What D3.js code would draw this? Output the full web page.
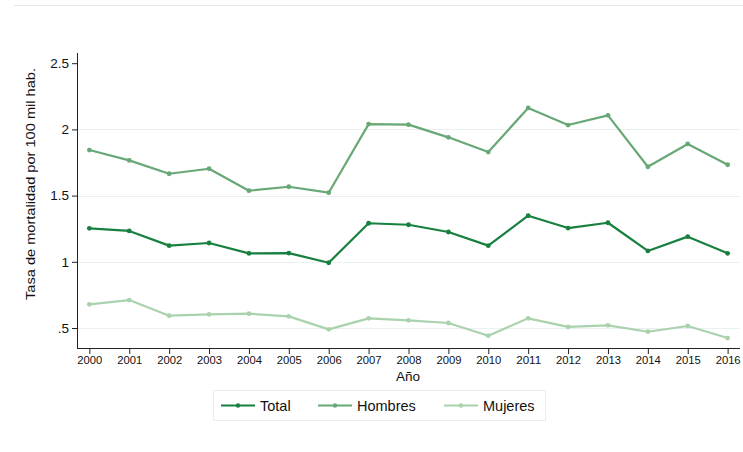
<!DOCTYPE html>
<html><head><meta charset="utf-8">
<script src="https://cdn.jsdelivr.net/npm/d3@7"></script>
<style>body{margin:0;background:#fff}svg{display:block;font-family:"Liberation Sans",Arial,sans-serif}</style>
</head><body><svg id="c" width="743" height="452"></svg>
<script>
const years = [2000,2001,2002,2003,2004,2005,2006,2007,2008,2009,2010,2011,2012,2013,2014,2015,2016];
const total   = [1.253,1.233,1.122,1.142,1.064,1.066,0.993,1.291,1.280,1.225,1.122,1.348,1.255,1.295,1.082,1.190,1.064];
const hombres = [1.844,1.766,1.665,1.703,1.537,1.567,1.522,2.040,2.036,1.940,1.829,2.162,2.033,2.106,1.718,1.890,1.733];
const mujeres = [0.679,0.711,0.593,0.603,0.608,0.588,0.490,0.573,0.558,0.538,0.442,0.573,0.508,0.520,0.472,0.515,0.424];
const yTicks = [0.5,1,1.5,2,2.5];
const yTickLabels = [".5","1","1.5","2","2.5"];
const seriesNames = ["Total","Hombres","Mujeres"];
const seriesColors = ["#17803f","#67a876","#a9d2ad"];

const svg = d3.select("#c");
const x = d3.scaleLinear().domain([1999.69,2016.31]).range([77,740]);
const y = d3.scaleLinear().domain([0.349,2.577]).range([348,53]);

// top frame line
svg.append("line").attr("x1",14).attr("x2",743).attr("y1",5.5).attr("y2",5.5).attr("stroke","#e3eaea").attr("stroke-width",1);

// gridlines
svg.append("g").selectAll("line").data(yTicks.filter(d=>d<2.5)).join("line")
  .attr("x1",78).attr("x2",740).attr("y1",d=>Math.round(y(d))+0.5).attr("y2",d=>Math.round(y(d))+0.5)
  .attr("stroke","#eaf0f0").attr("stroke-width",1.2);

// y axis
const ya = svg.append("g").attr("transform","translate(77,0)")
  .call(d3.axisLeft(y).tickValues(yTicks).tickFormat((d,i)=>yTickLabels[i]).tickSize(5).tickSizeOuter(0));
ya.select(".domain").attr("stroke","#222").attr("d","M0.5,53V348.5");
ya.selectAll(".tick line").attr("stroke","#222");
ya.selectAll(".tick text").attr("font-size",13.5).attr("fill","#111").attr("font-family","Liberation Sans, Arial, sans-serif").attr("x",-8);

// x axis
const xa = svg.append("g").attr("transform","translate(0,348)")
  .call(d3.axisBottom(x).tickValues(years).tickFormat(d3.format("d")).tickSize(6).tickSizeOuter(0));
xa.select(".domain").attr("stroke","#222").attr("d","M77,0.5H740");
xa.selectAll(".tick line").attr("stroke","#222");
xa.selectAll(".tick text").attr("font-size",11).attr("fill","#111").attr("font-family","Liberation Sans, Arial, sans-serif").attr("y",8)
  .attr("textLength",25).attr("lengthAdjust","spacingAndGlyphs");

// axis titles
svg.append("text").attr("x",408).attr("y",381).attr("text-anchor","middle").attr("font-size",13.5).attr("fill","#111").text("Año");
svg.append("text").attr("transform","translate(35,184) rotate(-90)").attr("text-anchor","middle").attr("font-size",13)
  .attr("textLength",232).attr("lengthAdjust","spacingAndGlyphs").attr("fill","#111").text("Tasa de mortalidad por 100 mil hab.");

// series
const data = [total,hombres,mujeres];
const line = d3.line().x((d,i)=>x(years[i])).y(d=>y(d));
[2,1,0].forEach(k=>{
  const g = svg.append("g");
  g.append("path").datum(data[k]).attr("d",line).attr("fill","none").attr("stroke",seriesColors[k]).attr("stroke-width",2.2).attr("stroke-linejoin","round");
  g.selectAll("circle").data(data[k]).join("circle").attr("cx",(d,i)=>x(years[i])).attr("cy",d=>y(d)).attr("r",2.4).attr("fill",seriesColors[k]);
});

// legend
const lg = svg.append("g");
lg.append("rect").attr("x",213.5).attr("y",390.5).attr("width",332).attr("height",30).attr("fill","#fff").attr("stroke","#e6efef");
const lx = [221,318,444];
seriesNames.forEach((n,k)=>{
  lg.append("line").attr("x1",lx[k]).attr("x2",lx[k]+34).attr("y1",405.5).attr("y2",405.5).attr("stroke",seriesColors[k]).attr("stroke-width",2.2);
  lg.append("circle").attr("cx",lx[k]+17).attr("cy",405.5).attr("r",2.2).attr("fill",seriesColors[k]);
  lg.append("text").attr("x",lx[k]+39).attr("y",410.5).attr("font-size",14.5).attr("fill","#111").text(n);
});
</script></body></html>
